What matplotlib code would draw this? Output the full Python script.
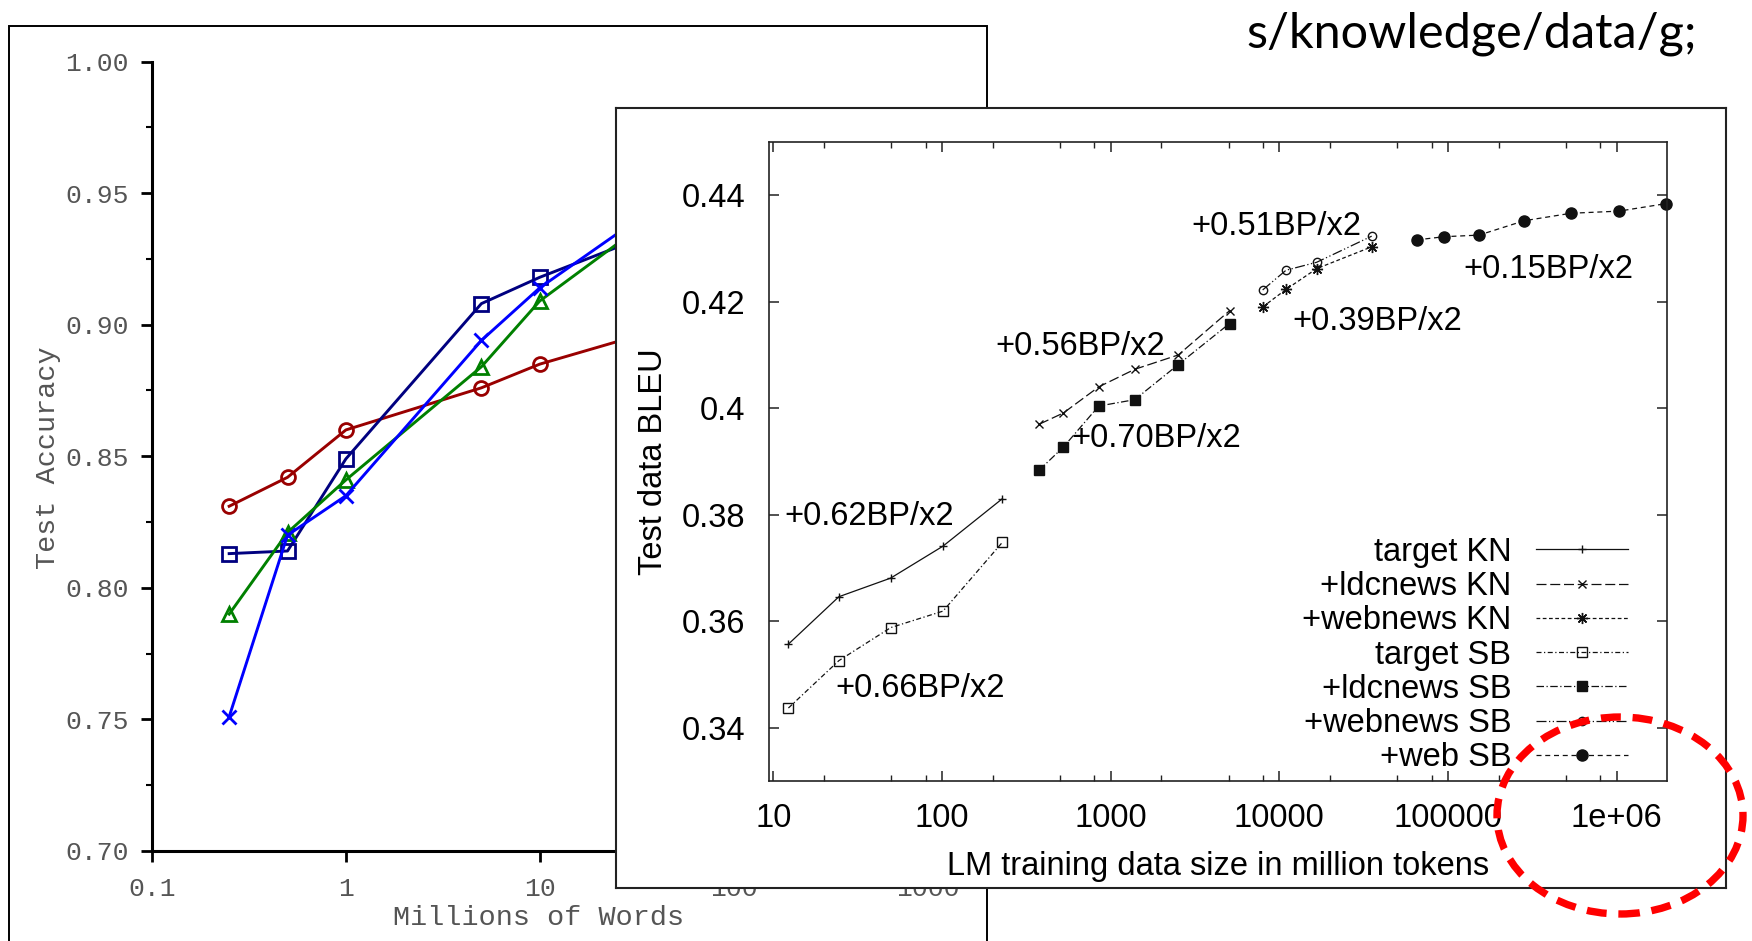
import matplotlib
matplotlib.use("Agg")
import matplotlib.pyplot as plt
from matplotlib.patches import Rectangle, Ellipse
from matplotlib.ticker import FixedLocator, MultipleLocator, FuncFormatter, NullLocator, LogLocator, NullFormatter

plt.rcParams['font.family'] = ['Liberation Sans', 'DejaVu Sans']

# left chart: test accuracy vs millions of words
words_m = [0.25, 0.5, 1, 5, 10, 50]
acc_circle = [0.831, 0.842, 0.860, 0.876, 0.885, 0.900]
acc_square = [0.813, 0.814, 0.849, 0.908, 0.918, 0.938]
acc_cross = [0.751, 0.820, 0.835, 0.894, 0.914, 0.950]
acc_triangle = [0.790, 0.821, 0.841, 0.884, 0.909, 0.947]
acc_yticks = [0.70, 0.75, 0.80, 0.85, 0.90, 0.95, 1.00]
words_xticks = [0.1, 1, 10, 100, 1000]

# right chart: BLEU vs LM training data size (million tokens)
target_x = [12.3, 24.5, 49.7, 101.5, 228]
target_kn = [0.3557, 0.3646, 0.3681, 0.3741, 0.3830]
target_sb = [0.3437, 0.3526, 0.3588, 0.3619, 0.3748]
ldcnews_x = [378, 525, 850, 1390, 2520, 5070]
ldcnews_kn = [0.3970, 0.3991, 0.4040, 0.4073, 0.4100, 0.4183]
ldcnews_sb = [0.3884, 0.3927, 0.4004, 0.4016, 0.4082, 0.4159]
webnews_x = [7970, 10960, 16660, 35300]
webnews_kn = [0.4190, 0.4223, 0.4262, 0.4303]
webnews_sb = [0.4222, 0.4259, 0.4274, 0.4323]
web_x = [65200, 95100, 152800, 283400, 535800, 1032000, 1952000]
web_sb = [0.4316, 0.4322, 0.4325, 0.4352, 0.4366, 0.4370, 0.4384]
bleu_yticks = [0.34, 0.36, 0.38, 0.40, 0.42, 0.44]
tokens_xticks = [10, 100, 1000, 10000, 100000, 1000000]
slope_notes = ["+0.62BP/x2", "+0.66BP/x2", "+0.56BP/x2", "+0.70BP/x2",
               "+0.51BP/x2", "+0.39BP/x2", "+0.15BP/x2"]

W, H = 1752, 941


def px_box(left, top, right, bottom):
    return [left / W, 1 - bottom / H, (right - left) / W, (bottom - top) / H]


fig = plt.figure(figsize=(W / 100, H / 100), dpi=100)

# ---- left chart ----
fig.add_artist(Rectangle((8.5 / W, -0.1), (986.6 - 8.5) / W, 1.1 - 26 / H,
                         transform=fig.transFigure, fill=False,
                         edgecolor='black', lw=1.4, zorder=1))

ax1 = fig.add_axes(px_box(152, 61.5, 927.5, 851), zorder=0)
mono = 'Liberation Mono'
grey = '#555555'
for vals, color, marker in [(acc_circle, '#990000', 'o'),
                            (acc_square, '#000080', 's'),
                            (acc_triangle, '#008000', '^'),
                            (acc_cross, '#0000ff', 'x')]:
    ax1.plot(words_m, vals, color=color, marker=marker, ms=10, mfc='none',
             mew=2.0, lw=2.1)
ax1.set_xscale('log')
ax1.set_xlim(0.1, 1000)
ax1.set_ylim(0.70, 1.00)
ax1.xaxis.set_major_locator(FixedLocator(words_xticks))
ax1.xaxis.set_minor_locator(NullLocator())
ax1.xaxis.set_major_formatter(FuncFormatter(lambda v, _: '%g' % v))
ax1.yaxis.set_major_locator(FixedLocator(acc_yticks))
ax1.yaxis.set_minor_locator(MultipleLocator(0.025))
ax1.yaxis.set_major_formatter(FuncFormatter(lambda v, _: '%.2f' % v))
ax1.spines['top'].set_visible(False)
ax1.spines['right'].set_visible(False)
ax1.spines['left'].set_linewidth(2.2)
ax1.spines['bottom'].set_linewidth(2.2)
ax1.tick_params(which='major', direction='out', length=8, width=2,
                labelsize=19, labelcolor=grey, labelfontfamily=mono)
ax1.tick_params(which='minor', direction='out', length=4, width=1.5)
ax1.tick_params(axis='y', pad=9)
ax1.tick_params(axis='x', pad=11)
fig.text(538.5 / W, 1 - 918.4 / H, 'Millions of Words', ha='center',
         va='center', fontsize=20.5, color=grey, family=mono)
fig.text(48 / W, 1 - 458 / H, 'Test Accuracy', ha='center', va='center',
         rotation=90, fontsize=20.5, color=grey, family=mono)

# ---- right chart ----
ax_box = fig.add_axes(px_box(615.6, 108.4, 1726.4, 888.3), zorder=2)
ax_box.set_xticks([])
ax_box.set_yticks([])
for s in ax_box.spines.values():
    s.set_linewidth(1.5)
    s.set_color('#222222')

ax2 = fig.add_axes(px_box(768.7, 141.9, 1666.7, 781), zorder=3)
ink = '#111111'
series = [
    (target_x, target_kn, 'target KN', '-', '+', 6, ink),
    (ldcnews_x, ldcnews_kn, '+ldcnews KN', (0, (8, 3)), 'x', 6, ink),
    (webnews_x, webnews_kn, '+webnews KN', (0, (3, 2)), (8, 2, 0), 8, ink),
    (target_x, target_sb, 'target SB', (0, (4, 2, 1, 2)), 's', 7, 'none'),
    (ldcnews_x, ldcnews_sb, '+ldcnews SB', (0, (6, 2, 1, 2)), 's', 7.5, ink),
    (webnews_x, webnews_sb, '+webnews SB', (0, (8, 2, 1, 2, 1, 2)), 'o', 6, 'none'),
    (web_x, web_sb, '+web SB', (0, (4, 3)), 'o', 8, ink),
]
for xs, ys, label, ls, marker, ms, mfc in series:
    ax2.plot(xs, ys, color=ink, ls=ls, lw=0.9, marker=marker, ms=ms,
             mfc=mfc, mec=ink, mew=1.0, label=label, clip_on=False)

ax2.set_xscale('log')
ax2.set_xlim(9.4, 1.98e6)
ax2.set_ylim(0.33, 0.45)
ax2.xaxis.set_major_locator(FixedLocator(tokens_xticks))
ax2.xaxis.set_minor_locator(LogLocator(base=10, subs=(2, 5, 8)))
ax2.xaxis.set_minor_formatter(NullFormatter())
ax2.xaxis.set_major_formatter(FuncFormatter(lambda v, _: '%g' % v))
ax2.yaxis.set_major_locator(FixedLocator(bleu_yticks))
ax2.yaxis.set_major_formatter(FuncFormatter(lambda v, _: '%g' % v))
for s in ax2.spines.values():
    s.set_linewidth(1.2)
    s.set_color('#222222')
ax2.tick_params(which='both', direction='in', top=True, right=True,
                labelsize=23.5, color='#222222')
ax2.tick_params(which='major', length=7, width=1.1)
ax2.tick_params(which='minor', length=4.5, width=1.0)
ax2.tick_params(axis='y', pad=17)
ax2.tick_params(axis='x', pad=15.5)

fig.text(1217.7 / W, 1 - 866 / H, 'LM training data size in million tokens',
         ha='center', va='center', fontsize=23.5, zorder=6)
fig.text(653.6 / W, 1 - 461.5 / H, 'Test data BLEU', ha='center',
         va='center', rotation=90, fontsize=23.5, zorder=6)

note_pos = [(784, 513.3), (835, 685), (995, 343), (1071, 435),
            (1191, 223), (1292, 318), (1463, 266.5)]
for text, (x, y) in zip(slope_notes, note_pos):
    fig.text(x / W, 1 - (y + 11.7) / H, text, ha='left', va='baseline',
             fontsize=23.5, zorder=6)

ax2.legend(loc='lower right', bbox_to_anchor=(0.9565, 0.0120),
           frameon=False, markerfirst=False, handlelength=2.82,
           handletextpad=0.74, labelspacing=0.1, borderpad=0,
           borderaxespad=0, fontsize=23.5)

# ---- slide decorations ----
fig.text(1697 / W, 1 - 47 / H, 's/knowledge/data/g;', ha='right',
         va='baseline', fontsize=35, family='Lato', zorder=6)
fig.add_artist(Ellipse((1620 / W, 1 - 815.5 / H), 246 / W, 197 / H,
                       transform=fig.transFigure, fill=False,
                       edgecolor='#ff0000', lw=5.3,
                       linestyle=(0, (2.7, 1.6)), zorder=10))

plt.savefig('out.png', dpi=100)
